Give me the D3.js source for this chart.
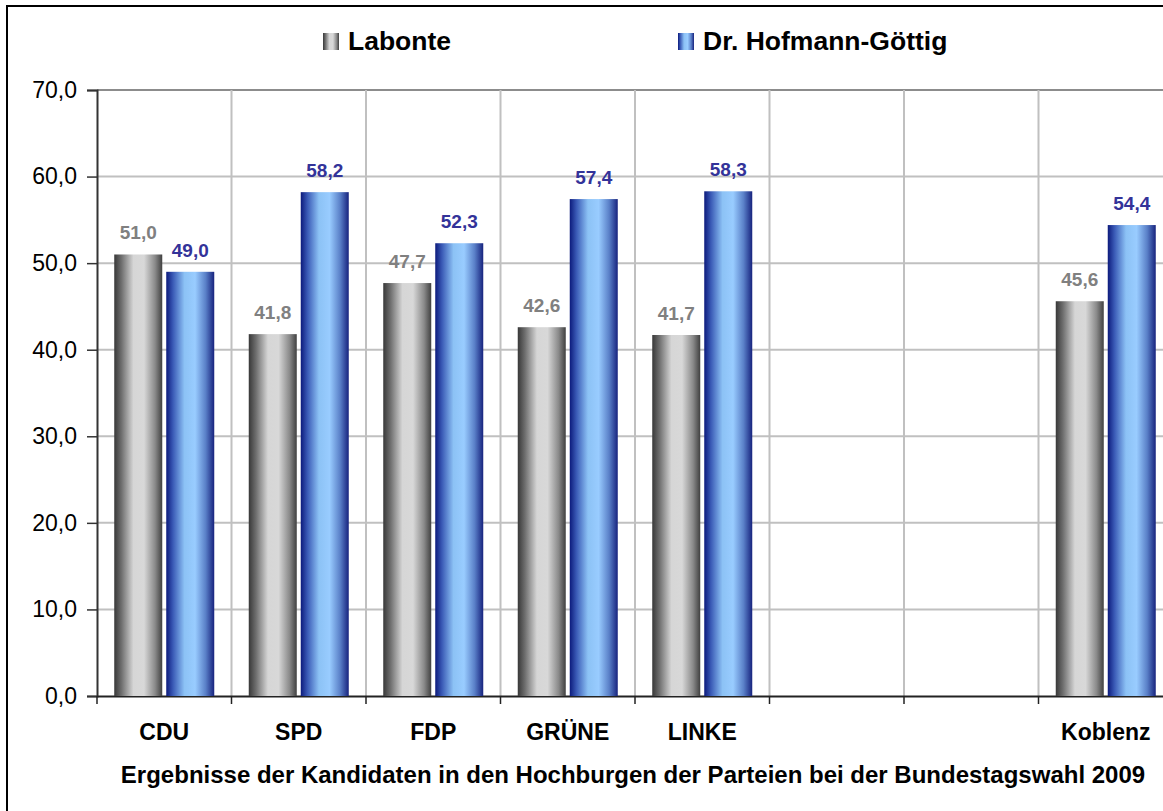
<!DOCTYPE html>
<html><head><meta charset="utf-8">
<script src="https://cdn.jsdelivr.net/npm/d3@7"></script>
<style>html,body{margin:0;padding:0;background:#fff;overflow:hidden}svg{display:block;font-family:Arial,"Liberation Sans",sans-serif}</style>
</head><body>
<svg id="c" width="1163" height="811"></svg>
<script>
const categories = ["CDU","SPD","FDP","GRÜNE","LINKE","","","Koblenz"];
const seriesNames = ["Labonte","Dr. Hofmann-Göttig"];
const labonte = [51.0, 41.8, 47.7, 42.6, 41.7, null, null, 45.6];
const hofmann = [49.0, 58.2, 52.3, 57.4, 58.3, null, null, 54.4];
const yTicks = [0,10,20,30,40,50,60,70];
const title = "Ergebnisse der Kandidaten in den Hochburgen der Parteien bei der Bundestagswahl 2009";

(function(){
const svg = d3.select("#c");
const FF = "Arial,'Liberation Sans',sans-serif";
const fmt = v => v.toFixed(1).replace(".", ",");

// border
svg.append("rect").attr("x",7).attr("y",6).attr("width",1300).attr("height",1000)
  .attr("fill","#fff").attr("stroke","#000").attr("stroke-width",2);

const pL = 97, pR = 1173, pT = 90, pB = 696;
const idx = categories.map((d,i)=>i);
const x = d3.scaleBand().domain(idx).range([pL,pR]).padding(0);
const bw = x.bandwidth();
const groupW = 100;
const xs = d3.scaleBand().domain([0,1]).range([(bw-groupW)/2,(bw+groupW)/2]).paddingInner(4/52).paddingOuter(0);
const y = d3.scaleLinear().domain([0,70]).range([pB,pT]);

const defs = svg.append("defs");
function grad(id, stops){
  const g = defs.append("linearGradient").attr("id",id).attr("x1","0%").attr("x2","100%").attr("y1","0%").attr("y2","0%");
  stops.forEach(s=>g.append("stop").attr("offset",s[0]).attr("stop-color",s[1]));
}
grad("gGray",[["0%","#383838"],["15%","#6e6e6e"],["40%","#d6d6d6"],["62%","#d8d8d8"],["85%","#8a8a8a"],["100%","#404040"]]);
grad("gBlue",[["0%","#0c1a7c"],["14%","#3a5ab6"],["38%","#8cc2f5"],["60%","#99ccff"],["82%","#5a80c8"],["100%","#17237e"]]);

// horizontal gridlines
svg.append("g").selectAll("line").data(yTicks.filter(t=>t>0)).join("line")
  .attr("x1",pL).attr("x2",pR).attr("y1",d=>y(d)).attr("y2",d=>y(d))
  .attr("stroke",d=>d===70?"#8c8c8c":"#c0c0c0").attr("stroke-width",2);
// vertical gridlines
svg.append("g").selectAll("line").data(idx.slice(1)).join("line")
  .attr("x1",d=>x(d)).attr("x2",d=>x(d)).attr("y1",pT).attr("y2",pB)
  .attr("stroke","#c0c0c0").attr("stroke-width",2);

// y axis
const yAxis = d3.axisLeft(y).tickValues(yTicks).tickFormat(fmt).tickSize(10).tickPadding(10);
const ya = svg.append("g").attr("transform",`translate(${pL},0)`).call(yAxis);
ya.attr("font-size",null).attr("font-family",null);
ya.select(".domain").attr("stroke","#333").attr("stroke-width",2);
ya.selectAll(".tick line").attr("stroke","#333").attr("stroke-width",1.5);
ya.selectAll("text").style("font-size","23px").attr("fill","#000").style("font-family",FF);

// x axis
const xAxis = d3.axisBottom(x).tickFormat(i=>categories[i]).tickSize(0).tickPadding(28);
const xa = svg.append("g").attr("transform",`translate(0,${pB})`).call(xAxis);
xa.attr("font-size",null).attr("font-family",null);
xa.select(".domain").attr("stroke","#222").attr("stroke-width",2);
xa.selectAll("text").style("font-size","23px").style("font-weight","bold").attr("fill","#000").style("font-family",FF);
svg.append("g").selectAll("line").data(idx.concat([idx.length])).join("line")
  .attr("x1",d=>pL+d*bw).attr("x2",d=>pL+d*bw).attr("y1",pB).attr("y2",pB+8)
  .attr("stroke","#222").attr("stroke-width",1.5);

// bars
const series = [
  {vals: labonte, fill:"url(#gGray)", label:"#808080"},
  {vals: hofmann, fill:"url(#gBlue)", label:"#333399"}
];
series.forEach((s,si)=>{
  const data = idx.filter(i=>s.vals[i]!=null);
  svg.append("g").selectAll("rect").data(data).join("rect")
    .attr("x",i=>x(i)+xs(si)).attr("width",xs.bandwidth())
    .attr("y",i=>y(s.vals[i])).attr("height",i=>pB-y(s.vals[i]))
    .attr("fill",s.fill);
  svg.append("g").selectAll("text").data(data).join("text")
    .attr("x",i=>x(i)+xs(si)+xs.bandwidth()/2).attr("y",i=>y(s.vals[i])-15)
    .attr("text-anchor","middle").attr("font-size",19).attr("font-weight","bold")
    .attr("fill",s.label).text(i=>fmt(s.vals[i]));
});

// legend
const leg = [{x:323, fill:"url(#gGray)"},{x:678, fill:"url(#gBlue)"}];
leg.forEach((l,i)=>{
  svg.append("rect").attr("x",l.x).attr("y",33).attr("width",16).attr("height",17).attr("fill",l.fill);
  svg.append("text").attr("x",l.x+25).attr("y",50).attr("font-size",26.5).attr("font-weight","bold")
    .attr("fill","#000").text(seriesNames[i]);
});

// title
svg.append("text").attr("x",633).attr("y",783).attr("text-anchor","middle")
  .attr("font-size",24).attr("font-weight","bold").attr("fill","#000").text(title);
})();
</script>
</body></html>
